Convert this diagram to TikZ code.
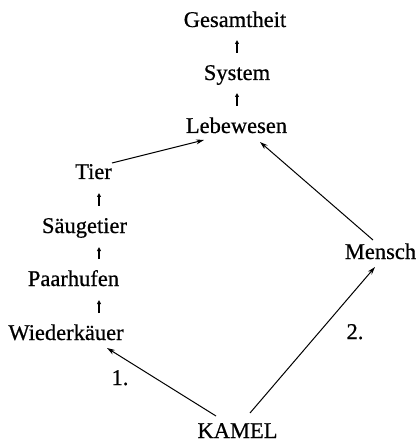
\documentclass[tikz,border=0pt]{standalone}
\usepackage{fontspec}
\setmainfont{Liberation Serif}
\newfontfamily\wordfont[FakeBold=0.6]{Liberation Serif}
\usetikzlibrary{arrows.meta,calc}
\begin{document}
\begin{tikzpicture}[x=1pt,y=1pt,
  word/.style={inner sep=0pt,anchor=base,font=\wordfont\fontsize{22.5}{27}\selectfont},
  bigarrow/.style={line width=1pt,-{Stealth[length=8pt,width=5pt]}},
  smallarrow/.style={line width=1.3pt,-{Triangle[length=4pt,width=3.8pt]}}]
\fill[white] (0,0) rectangle (419,-443);
\useasboundingbox (0,0) rectangle (419,-443);
% central column
\node[word] (gesamt) at (235,-27) {Gesamtheit};
\node[word] (system) at (237,-80) {System};
\node[word] (lebe) at (236.5,-133) {Lebewesen};
% left column
\node[word] (tier) at (93.5,-179) {Tier};
\node[word] (saeug) at (84.5,-233) {Säugetier};
\node[word] (paar) at (73.5,-286) {Paarhufen};
\node[word] (wieder) at (66,-340) {Wiederkäuer};
% right and bottom
\node[word] (mensch) at (380.5,-259) {Mensch};
\node[word] (kamel) at (237.5,-438) {KAMEL};
% labels
\node[word] (one) at (120,-385) {1.};
\node[word] (two) at (355,-339) {2.};
% small vertical arrows
\coordinate (colC) at (237,0);
\coordinate (colL) at (99,0);
\draw[smallarrow] ($(system.base -| colC)+(0,27)$) -- ($(gesamt.base -| colC)+(0,-13)$);
\draw[smallarrow] ($(lebe.base -| colC)+(0,27)$) -- ($(system.base -| colC)+(0,-13)$);
\draw[smallarrow] ($(saeug.base -| colL)+(0,27)$) -- ($(tier.base -| colL)+(0,-14)$);
\draw[smallarrow] ($(paar.base -| colL)+(0,27)$) -- ($(saeug.base -| colL)+(0,-14)$);
\draw[smallarrow] ($(wieder.base -| colL)+(0,27)$) -- ($(paar.base -| colL)+(0,-14)$);
% long arrows
\draw[bigarrow] ($(tier.base)+(18.5,16)$) -- ($(lebe.base)+(-32.5,-7)$);
\draw[bigarrow] ($(mensch.base)+(-7.5,19)$) -- ($(lebe.base)+(23.5,-9)$);
\draw[bigarrow] ($(kamel.base)+(-21.5,22)$) -- ($(wieder.base)+(41,-8)$);
\draw[bigarrow] ($(kamel.base)+(12.5,25)$) -- ($(mensch.base)+(-5.5,-8)$);
\end{tikzpicture}
\end{document}
